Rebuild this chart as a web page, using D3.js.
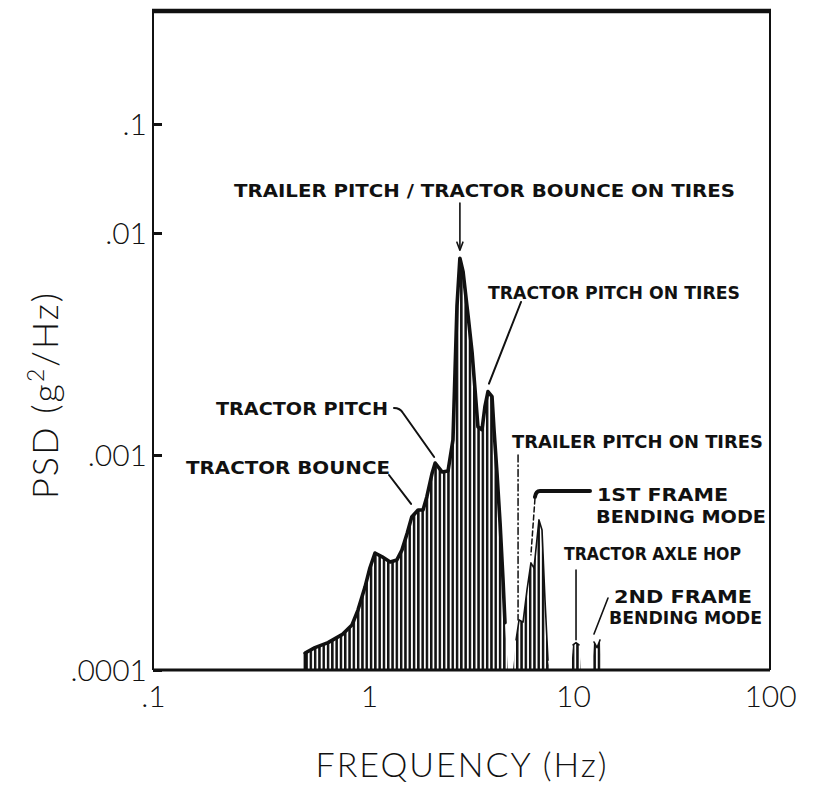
<!DOCTYPE html>
<html>
<head>
<meta charset="utf-8">
<script src="https://cdn.jsdelivr.net/npm/d3@7"></script>
<style>
  html, body { margin: 0; padding: 0; background: #fff; }
  svg { display: block; }
  .tick-label { font-family: Lato, "DejaVu Sans", sans-serif; font-weight: 300; fill: #111; }
  .title { font-family: Lato, "DejaVu Sans", sans-serif; font-weight: 300; fill: #111; }
  .note { font-family: "DejaVu Sans", sans-serif; font-weight: bold; fill: #111; }
</style>
</head>
<body>
<svg id="chart" width="813" height="785"></svg>
<script>
// ---- PSD spectrum, frequency in Hz, PSD in g^2/Hz ----
// main body: tractor bounce / pitch and trailer pitch region
const mainFreq = [0.506, 0.506, 0.562, 0.646, 0.750, 0.834, 0.889, 0.958, 1.01, 1.07, 1.16, 1.27, 1.37, 1.45, 1.54, 1.62, 1.74, 1.84, 1.92, 2.04, 2.11, 2.28, 2.44, 2.58, 2.64, 2.70, 2.79, 2.89, 3.02, 3.06, 3.20, 3.31, 3.42, 3.58, 3.70, 3.83, 4.01, 4.10, 4.24, 4.39, 4.54, 4.64, 4.80];
const mainPsd  = [1e-4, 1.20e-4, 1.27e-4, 1.34e-4, 1.46e-4, 1.62e-4, 1.90e-4, 2.43e-4, 2.98e-4, 3.50e-4, 3.36e-4, 3.18e-4, 3.25e-4, 3.61e-4, 4.34e-4, 5.15e-4, 5.55e-4, 5.55e-4, 6.38e-4, 8.25e-4, 9.18e-4, 8.34e-4, 8.43e-4, 1.17e-3, 2.36e-3, 4.71e-3, 7.70e-3, 6.72e-3, 4.71e-3, 4.24e-3, 2.91e-3, 1.97e-3, 1.34e-3, 1.30e-3, 1.65e-3, 1.93e-3, 1.83e-3, 1.30e-3, 8.25e-4, 4.83e-4, 2.62e-4, 1.66e-4, 1e-4];
// trailer pitch on tires + 1st frame bending
const frameFreq = [5.08, 5.26, 5.44, 5.69, 5.95, 6.22, 6.44, 6.81, 7.05, 7.29, 7.54, 7.71];
const framePsd  = [1e-4, 1.38e-4, 1.71e-4, 1.67e-4, 2.36e-4, 3.15e-4, 2.98e-4, 4.99e-4, 4.48e-4, 2.12e-4, 1.11e-4, 1e-4];
// tractor axle hop
const hopFreq = [9.78, 10.0, 10.36, 10.73, 10.98];
const hopPsd  = [1e-4, 1.31e-4, 1.34e-4, 1.31e-4, 1e-4];
// 2nd frame bending
const frame2Freq = [12.49, 12.78, 13.24, 13.71, 14.04];
const frame2Psd  = [1e-4, 1.35e-4, 1.27e-4, 1.38e-4, 1e-4];

// axis ticks
const xTickValues = [0.1, 1, 10, 100];
const xTickLabels = [".1", "1", "10", "100"];
const yTickValues = [0.0001, 0.001, 0.01, 0.1];
const yTickLabels = [".0001", ".001", ".01", ".1"];

const svg = d3.select("#chart");

// hand-ruled log axes: decade spacing follows the drawn tick marks
const x = d3.scaleLog().domain([0.1, 1, 10, 100]).range([153, 369, 573, 770]);
const y = d3.scaleLog().domain([0.0001, 0.001, 0.01, 0.1]).range([670, 455, 233, 124]);
const frameTop = 11;

const zip = (fs, ps) => fs.map((f, i) => ({ f, v: ps[i] }));
const segments = [
  { pts: zip(mainFreq, mainPsd), w: 3.6 },
  { pts: zip(frameFreq, framePsd), w: 1.6 },
  { pts: zip(hopFreq, hopPsd), w: 1.6 },
  { pts: zip(frame2Freq, frame2Psd), w: 1.6 }
];

// vertical hatching fill
const defs = svg.append("defs");
const pat = defs.append("pattern").attr("id", "hatch")
  .attr("patternUnits", "userSpaceOnUse").attr("width", 4.3).attr("height", 10);
pat.append("rect").attr("width", 4.3).attr("height", 10).attr("fill", "#fff");
pat.append("rect").attr("x", 0).attr("width", 2.5).attr("height", 10).attr("fill", "#111");

const area = d3.area().x(d => x(d.f)).y0(y(1e-4)).y1(d => y(d.v));
const line = d3.line().x(d => x(d.f)).y(d => y(d.v));

segments.forEach(s => {
  svg.append("path").datum(s.pts).attr("d", area).attr("fill", "url(#hatch)");
  svg.append("path").datum(s.pts.slice(1, -1)).attr("d", line)
    .attr("fill", "none").attr("stroke", "#111").attr("stroke-width", s.w)
    .attr("stroke-linejoin", "round").attr("stroke-linecap", "round");
});
// left edge of the main body
svg.append("line")
  .attr("x1", x(mainFreq[0])).attr("x2", x(mainFreq[0]))
  .attr("y1", y(mainPsd[0])).attr("y2", y(mainPsd[1]))
  .attr("stroke", "#111").attr("stroke-width", 3);

// frame
const x0 = x(0.1), x1 = x(100), yb = y(1e-4);
svg.append("line").attr("x1", x0 - 1).attr("x2", x1 + 1).attr("y1", frameTop).attr("y2", frameTop)
  .attr("stroke", "#111").attr("stroke-width", 4.5);
svg.append("line").attr("x1", x0).attr("x2", x0).attr("y1", frameTop).attr("y2", yb)
  .attr("stroke", "#111").attr("stroke-width", 2);
svg.append("line").attr("x1", x1).attr("x2", x1).attr("y1", frameTop).attr("y2", yb)
  .attr("stroke", "#111").attr("stroke-width", 2);
svg.append("line").attr("x1", x0).attr("x2", x1).attr("y1", yb).attr("y2", yb)
  .attr("stroke", "#111").attr("stroke-width", 3);

// y axis: inward ticks
const yAxis = d3.axisLeft(y).tickValues(yTickValues)
  .tickFormat((d, i) => yTickLabels[i]).tickSizeInner(-9).tickSizeOuter(0).tickPadding(6);
const gy = svg.append("g").attr("transform", `translate(${x0},0)`).call(yAxis);
gy.select(".domain").remove();
gy.selectAll(".tick line").attr("stroke", "#111").attr("stroke-width", 3);
gy.selectAll(".tick text").attr("class", "tick-label").attr("font-size", 30)
  .attr("dy", "0.36em");
gy.attr("font-family", null).attr("font-size", null);

// x axis
const xAxis = d3.axisBottom(x).tickValues(xTickValues)
  .tickFormat((d, i) => xTickLabels[i]).tickSize(0).tickPadding(16);
const gx = svg.append("g").attr("transform", `translate(0,${yb})`).call(xAxis);
gx.select(".domain").remove();
gx.selectAll(".tick text").attr("class", "tick-label").attr("font-size", 30);
gx.attr("font-family", null).attr("font-size", null);

// axis titles
svg.append("text").attr("class", "title")
  .attr("x", 462).attr("y", 777).attr("text-anchor", "middle")
  .attr("font-size", 34).attr("letter-spacing", 2).text("FREQUENCY (Hz)");
const yt = svg.append("text").attr("class", "title")
  .attr("transform", "translate(58,395) rotate(-90)").attr("text-anchor", "middle")
  .attr("font-size", 36).attr("letter-spacing", 2);
yt.append("tspan").text("PSD (g");
yt.append("tspan").attr("font-size", 23).attr("dy", -14).text("2");
yt.append("tspan").attr("dy", 14).text("/Hz)");

// annotations: label box [left, right, center y]
const notes = [
  { t: "TRAILER PITCH / TRACTOR BOUNCE ON TIRES", x0: 234, x1: 735, cy: 190 },
  { t: "TRACTOR PITCH ON TIRES", x0: 488, x1: 740, cy: 292 },
  { t: "TRACTOR PITCH", x0: 216, x1: 388, cy: 408 },
  { t: "TRACTOR BOUNCE", x0: 186, x1: 390, cy: 467 },
  { t: "TRAILER PITCH ON TIRES", x0: 512, x1: 763, cy: 441 },
  { t: "1ST FRAME", x0: 597, x1: 728, cy: 494 },
  { t: "BENDING MODE", x0: 596, x1: 766, cy: 516 },
  { t: "TRACTOR AXLE HOP", x0: 564, x1: 741, cy: 553 },
  { t: "2ND FRAME", x0: 614, x1: 752, cy: 596 },
  { t: "BENDING MODE", x0: 609, x1: 762, cy: 617 }
];
svg.selectAll("text.note").data(notes).join("text").attr("class", "note")
  .attr("x", d => d.x0).attr("y", d => d.cy + 6.5)
  .attr("font-size", 18).attr("textLength", d => d.x1 - d.x0)
  .attr("lengthAdjust", "spacingAndGlyphs").text(d => d.t);

// leader lines, ending at the peaks they name
const pk = (f, v) => [x(f), y(v)];
const ink = svg.append("g").attr("stroke", "#111").attr("fill", "none")
  .attr("stroke-linecap", "round").attr("stroke-linejoin", "round");

// trailer pitch / tractor bounce on tires: down arrow
const [ax, ay] = pk(2.79, 7.70e-3);
ink.append("line").attr("x1", ax).attr("x2", ax).attr("y1", 203).attr("y2", ay - 11)
  .attr("stroke-width", 1.6);
ink.append("path").attr("d", `M${ax - 3},${ay - 16} L${ax},${ay - 8} L${ax + 3},${ay - 16}`)
  .attr("stroke-width", 1.6);
// tractor pitch on tires
const [b1x, b1y] = pk(3.83, 1.93e-3);
ink.append("path").attr("d", `M521,302 L${b1x + 1},${b1y - 8}`).attr("stroke-width", 2);
// tractor pitch
const [c1x, c1y] = pk(2.11, 9.18e-4);
ink.append("path").attr("d", `M394,408 q6,0 9,5 L${c1x - 1},${c1y - 6}`).attr("stroke-width", 2);
// tractor bounce
const [d1x, d1y] = pk(1.74, 5.55e-4);
ink.append("path").attr("d", `M389,475 L${d1x - 7},${d1y - 6}`).attr("stroke-width", 2);
// trailer pitch on tires: dashed drop line
const [e1x, e1y] = pk(5.44, 1.71e-4);
ink.append("line").attr("x1", e1x - 1).attr("x2", e1x - 1).attr("y1", 455).attr("y2", e1y)
  .attr("stroke-width", 1.5).attr("stroke-dasharray", "7 3 1.5 3");
// 1st frame bending: heavy rule with a rounded corner, then a dashed drop
const [f1x, f1y] = pk(6.22, 3.15e-4);
ink.append("path").attr("d", `M590,491 L${f1x + 9},491 Q${f1x + 5},491 ${f1x + 4},497`)
  .attr("stroke-width", 4);
ink.append("line").attr("x1", f1x + 4).attr("x2", f1x).attr("y1", 499).attr("y2", f1y - 8)
  .attr("stroke-width", 1.5).attr("stroke-dasharray", "5 3");
// tractor axle hop
const [g1x, g1y] = pk(10.36, 1.34e-4);
ink.append("line").attr("x1", g1x).attr("x2", g1x).attr("y1", 570).attr("y2", g1y - 3)
  .attr("stroke-width", 1.6);
// 2nd frame bending
const [h1x, h1y] = pk(12.78, 1.35e-4);
ink.append("path").attr("d", `M608,598 L${h1x},${h1y - 8}`).attr("stroke-width", 1.6);
</script>
</body>
</html>
